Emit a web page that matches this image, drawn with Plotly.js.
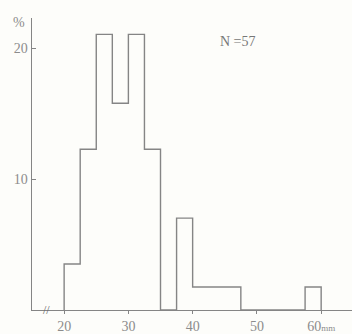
<!DOCTYPE html>
<html><head><meta charset="utf-8">
<script src="https://cdn.plot.ly/plotly-3.0.1.min.js"></script>
<style>html,body{margin:0;padding:0;background:#fdfdfa;}#chart{width:352px;height:334px;}</style>
</head><body><div id="chart"></div>
<script>
// bin edges (mm) and counts per 2.5 mm class
const binEdges = [20,22.5,25,27.5,30,32.5,35,37.5,40,42.5,45,47.5,50,52.5,55,57.5,60];
const binCounts = [2,7,12,9,12,7,0,4,1,1,1,0,0,0,0,1];
const totalN = 57;
const xTickVals = [20,30,40,50,60];
const xTickText = ["20","30","40","50","60<span style='font-size:9px'>mm</span>"];
const yTickVals = [10,20];
const yTickText = ["10","20"];

const pct = binCounts.map(c => c / totalN * 100);
const xs = [binEdges[0]].concat(binEdges);
const ys = [0].concat(pct).concat([0]);

const col = '#858585';
const txt = '#8c8c8c';
const fnt = {family: 'Liberation Serif, serif', size: 14, color: txt};

Plotly.newPlot('chart', [{
  x: xs, y: ys, type: 'scatter', mode: 'lines',
  line: {shape: 'hv', color: col, width: 1.4},
  hoverinfo: 'skip', showlegend: false
}], {
  width: 352, height: 334,
  margin: {l: 32, r: 0, t: 18, b: 24},
  paper_bgcolor: '#fdfdfa', plot_bgcolor: '#fdfdfa',
  xaxis: {range: [15, 64.8], showgrid: false, zeroline: false,
    showline: true, linecolor: col, linewidth: 1.4,
    tickmode: 'array', tickvals: xTickVals, ticktext: xTickText,
    ticks: 'outside', ticklen: 3, tickcolor: col, tickfont: fnt},
  yaxis: {range: [0, 22.3], showgrid: false, zeroline: false,
    showline: true, linecolor: col, linewidth: 1.4,
    tickmode: 'array', tickvals: yTickVals, ticktext: yTickText,
    ticks: 'inside', ticklen: 4, tickcolor: col, tickfont: fnt},
  annotations: [
    {text: 'N =57', x: 0.58, y: 0.92, xref: 'paper', yref: 'paper', showarrow: false,
     xanchor: 'left', yanchor: 'middle', font: {family: 'Liberation Serif, serif', size: 14, color: '#777'}},
    {text: '%', x: -0.04, y: 0.985, xref: 'paper', yref: 'paper', showarrow: false,
     xanchor: 'center', yanchor: 'middle', font: fnt},
    {text: '//', x: 17.3, y: 0, xref: 'x', yref: 'y', showarrow: false, yanchor: 'middle',
     font: {family: 'Liberation Serif, serif', size: 12, color: '#666'}}
  ]
}, {staticPlot: true, displayModeBar: false});
</script></body></html>
